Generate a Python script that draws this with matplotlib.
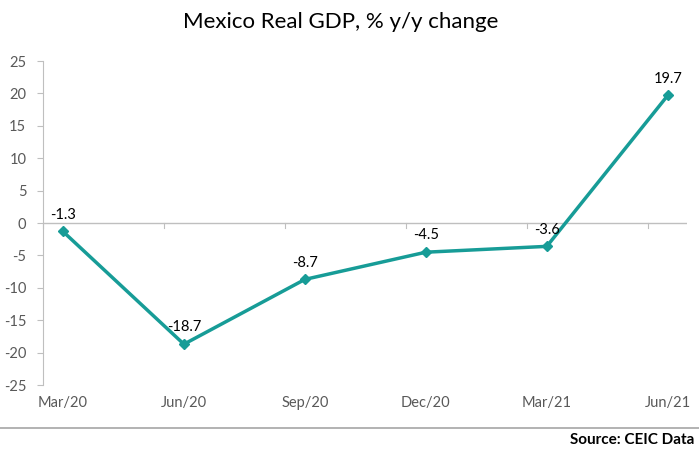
import numpy as np
import matplotlib
matplotlib.use("Agg")
import matplotlib.pyplot as plt

quarters = ["Mar/20", "Jun/20", "Sep/20", "Dec/20", "Mar/21", "Jun/21"]
gdp_yoy = [-1.3, -18.7, -8.7, -4.5, -3.6, 19.7]
yticks = [-25, -20, -15, -10, -5, 0, 5, 10, 15, 20, 25]

plt.rcParams['font.family'] = ['Lato', 'DejaVu Sans']
teal = '#179c97'
grey = '#bfbfbf'

fig = plt.figure(figsize=(6.99, 4.49), dpi=100)
ax = fig.add_axes([0.0615, 0.1425, 0.9215, 0.7215])

x = np.arange(len(quarters))
ax.plot(x, gdp_yoy, color=teal, lw=2.5, marker='D', ms=5, zorder=3)
for xi, v in zip(x, gdp_yoy):
    ax.annotate(f"{v}", (xi, v), xytext=(0, 7), textcoords='offset points',
                ha='center', va='bottom', fontsize=10.5, color='black')

ax.set_xlim(-0.165, len(quarters) - 1 + 0.16)
ax.set_ylim(-25, 25)
ax.set_yticks(yticks)
ax.set_yticklabels([str(t) for t in yticks])
ax.tick_params(axis='y', colors='#595959', labelsize=10.5, length=4, width=0.8,
               color=grey, pad=8)

# zero line with its own tick marks
ax.axhline(0, color=grey, lw=1, zorder=1)
for t in np.arange(len(quarters)) - 0.165:
    ax.plot([t, t], [0, -0.8], color=grey, lw=0.8, zorder=1, clip_on=False)

ax.set_xticks(x)
ax.set_xticklabels(quarters)
ax.tick_params(axis='x', length=0, colors='#595959', labelsize=10.5, pad=8)

for s in ['top', 'right', 'bottom']:
    ax.spines[s].set_visible(False)
ax.spines['left'].set_color(grey)
ax.spines['left'].set_linewidth(0.8)

fig.text(0.488, 0.95, "Mexico Real GDP, % y/y change", ha='center', va='center',
         fontsize=16, color='black')

fig.add_artist(plt.Line2D([0, 1], [1 - 428 / 449] * 2, color='#a6a6a6', lw=1.2))
fig.text(0.994, 1 - 440 / 449, "Source: CEIC Data", ha='right', va='center',
         fontsize=11, fontweight='bold', color='black')

fig.savefig("out.png", dpi=100)
